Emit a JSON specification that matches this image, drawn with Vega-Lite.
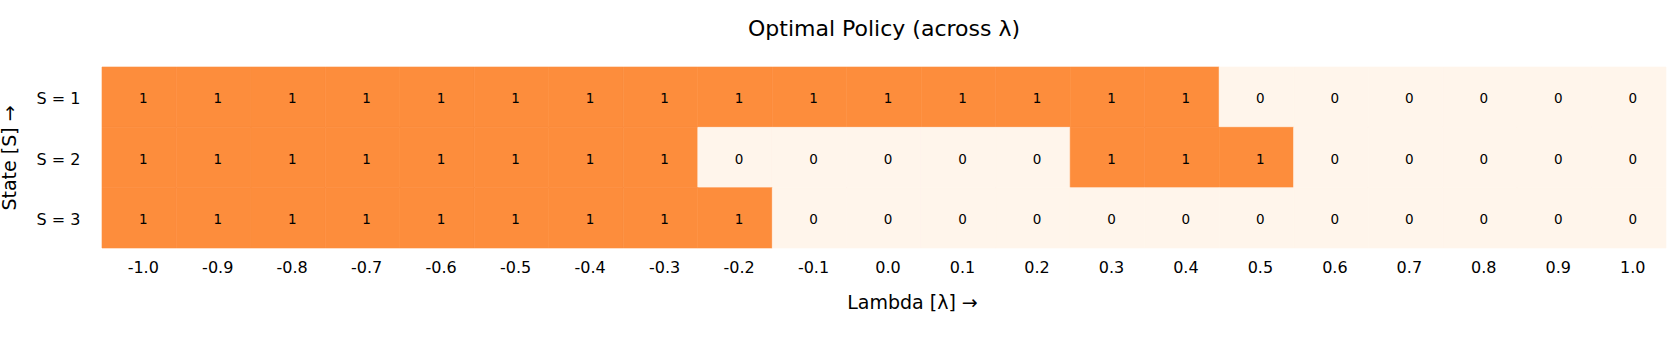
{
  "$schema": "https://vega.github.io/schema/vega-lite/v6.json",
  "width": 1564,
  "height": 181,
  "autosize": "none",
  "padding": {"left": 102, "top": 67, "right": 14, "bottom": 111},
  "background": "white",
  "config": {
    "font": "DejaVu Sans",
    "view": {"stroke": null}
  },
  "title": {
    "text": "Optimal Policy (across λ)",
    "fontSize": 22,
    "fontWeight": "normal",
    "color": "#000000",
    "offset": 26,
    "anchor": "middle"
  },
  "data": {
    "values": [
      {"l": "-1.0", "s": "S = 1", "v": 1}, {"l": "-0.9", "s": "S = 1", "v": 1}, {"l": "-0.8", "s": "S = 1", "v": 1}, {"l": "-0.7", "s": "S = 1", "v": 1}, {"l": "-0.6", "s": "S = 1", "v": 1}, {"l": "-0.5", "s": "S = 1", "v": 1}, {"l": "-0.4", "s": "S = 1", "v": 1}, {"l": "-0.3", "s": "S = 1", "v": 1}, {"l": "-0.2", "s": "S = 1", "v": 1}, {"l": "-0.1", "s": "S = 1", "v": 1}, {"l": "0.0", "s": "S = 1", "v": 1}, {"l": "0.1", "s": "S = 1", "v": 1}, {"l": "0.2", "s": "S = 1", "v": 1}, {"l": "0.3", "s": "S = 1", "v": 1}, {"l": "0.4", "s": "S = 1", "v": 1}, {"l": "0.5", "s": "S = 1", "v": 0}, {"l": "0.6", "s": "S = 1", "v": 0}, {"l": "0.7", "s": "S = 1", "v": 0}, {"l": "0.8", "s": "S = 1", "v": 0}, {"l": "0.9", "s": "S = 1", "v": 0}, {"l": "1.0", "s": "S = 1", "v": 0},
      {"l": "-1.0", "s": "S = 2", "v": 1}, {"l": "-0.9", "s": "S = 2", "v": 1}, {"l": "-0.8", "s": "S = 2", "v": 1}, {"l": "-0.7", "s": "S = 2", "v": 1}, {"l": "-0.6", "s": "S = 2", "v": 1}, {"l": "-0.5", "s": "S = 2", "v": 1}, {"l": "-0.4", "s": "S = 2", "v": 1}, {"l": "-0.3", "s": "S = 2", "v": 1}, {"l": "-0.2", "s": "S = 2", "v": 0}, {"l": "-0.1", "s": "S = 2", "v": 0}, {"l": "0.0", "s": "S = 2", "v": 0}, {"l": "0.1", "s": "S = 2", "v": 0}, {"l": "0.2", "s": "S = 2", "v": 0}, {"l": "0.3", "s": "S = 2", "v": 1}, {"l": "0.4", "s": "S = 2", "v": 1}, {"l": "0.5", "s": "S = 2", "v": 1}, {"l": "0.6", "s": "S = 2", "v": 0}, {"l": "0.7", "s": "S = 2", "v": 0}, {"l": "0.8", "s": "S = 2", "v": 0}, {"l": "0.9", "s": "S = 2", "v": 0}, {"l": "1.0", "s": "S = 2", "v": 0},
      {"l": "-1.0", "s": "S = 3", "v": 1}, {"l": "-0.9", "s": "S = 3", "v": 1}, {"l": "-0.8", "s": "S = 3", "v": 1}, {"l": "-0.7", "s": "S = 3", "v": 1}, {"l": "-0.6", "s": "S = 3", "v": 1}, {"l": "-0.5", "s": "S = 3", "v": 1}, {"l": "-0.4", "s": "S = 3", "v": 1}, {"l": "-0.3", "s": "S = 3", "v": 1}, {"l": "-0.2", "s": "S = 3", "v": 1}, {"l": "-0.1", "s": "S = 3", "v": 0}, {"l": "0.0", "s": "S = 3", "v": 0}, {"l": "0.1", "s": "S = 3", "v": 0}, {"l": "0.2", "s": "S = 3", "v": 0}, {"l": "0.3", "s": "S = 3", "v": 0}, {"l": "0.4", "s": "S = 3", "v": 0}, {"l": "0.5", "s": "S = 3", "v": 0}, {"l": "0.6", "s": "S = 3", "v": 0}, {"l": "0.7", "s": "S = 3", "v": 0}, {"l": "0.8", "s": "S = 3", "v": 0}, {"l": "0.9", "s": "S = 3", "v": 0}, {"l": "1.0", "s": "S = 3", "v": 0}
    ]
  },
  "encoding": {
    "x": {
      "field": "l",
      "type": "ordinal",
      "sort": null,
      "scale": {"paddingInner": 0, "paddingOuter": 0},
      "axis": {
        "title": "Lambda [λ] →",
        "titleFontSize": 19,
        "titleFontWeight": "normal",
        "titleColor": "#000000",
        "titlePadding": 18,
        "titleX": 810,
        "labelAngle": 0,
        "labelFontSize": 16,
        "labelColor": "#000000",
        "labelPadding": 11,
        "labelOffset": 4,
        "domain": false,
        "ticks": false,
        "grid": false
      }
    },
    "y": {
      "field": "s",
      "type": "ordinal",
      "sort": null,
      "scale": {"paddingInner": 0, "paddingOuter": 0},
      "axis": {
        "title": "State [S] →",
        "titleFontSize": 19,
        "titleFontWeight": "normal",
        "titleColor": "#000000",
        "titlePadding": 17,
        "labelFontSize": 16,
        "labelColor": "#000000",
        "labelPadding": 22,
        "labelOffset": 2,
        "domain": false,
        "ticks": false,
        "grid": false
      }
    }
  },
  "layer": [
    {
      "mark": {"type": "rect", "strokeWidth": 0.6},
      "encoding": {
        "color": {
          "field": "v",
          "type": "quantitative",
          "scale": {"domain": [0, 1], "range": ["#fff5eb", "#fd8d3c"]},
          "legend": null
        },
        "stroke": {
          "field": "v",
          "type": "quantitative",
          "scale": {"domain": [0, 1], "range": ["#fff5eb", "#fd8d3c"]},
          "legend": null
        }
      }
    },
    {
      "mark": {"type": "text", "fontSize": 13.5, "color": "#000000", "baseline": "middle", "dx": 4, "dy": 2},
      "encoding": {
        "text": {"field": "v", "type": "quantitative"}
      }
    }
  ]
}
